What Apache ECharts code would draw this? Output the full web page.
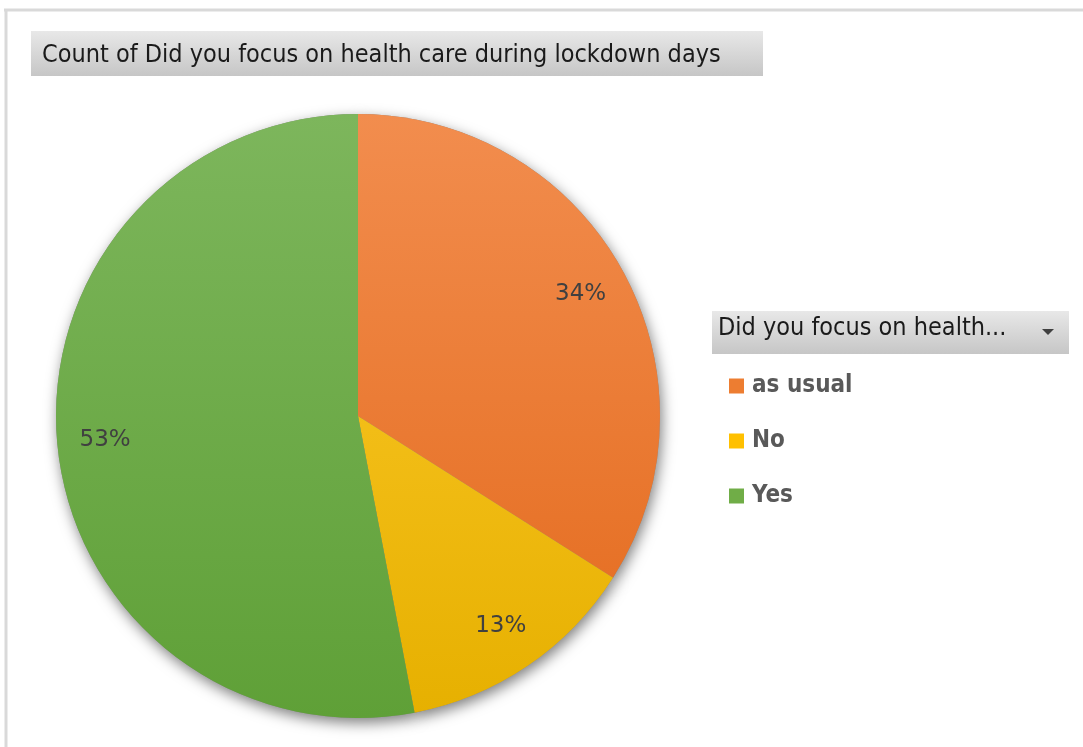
<!DOCTYPE html>
<html>
<head>
<meta charset="utf-8">
<script src="https://cdn.jsdelivr.net/npm/echarts@6/dist/echarts.min.js"></script>
<style>
  html, body { margin: 0; padding: 0; background: #fff; }
  #main { width: 1083px; height: 747px; }
</style>
</head>
<body>
<div id="main"></div>
<script>
// data
const categories = ['as usual', 'No', 'Yes']
const values = [34, 13, 53]
const titleText = 'Count of Did you focus on health care during lockdown days'
const legendTitle = 'Did you focus on health...'

// top / bottom shade of each slice
const topColors = ['#F28D4E', '#FFCB2E', '#7DB65C']
const bottomColors = ['#E3691B', '#E6B000', '#5FA037']
const legendColors = ['#ED7D31', '#FFC000', '#70AD47']

const chart = echarts.init(document.getElementById('main'))

const pieData = categories.map((name, i) => ({
  name: name,
  value: values[i],
  itemStyle: {
    color: new echarts.graphic.LinearGradient(0, 114, 0, 718, [
      { offset: 0, color: topColors[i] },
      { offset: 1, color: bottomColors[i] }
    ], true)
  }
}))

const plainData = categories.map((name, i) => ({ name: name, value: values[i] }))

const pieBase = {
  type: 'pie',
  center: [358, 416],
  startAngle: 90,
  clockwise: true,
  silent: true,
  labelLine: { show: false }
}

const option = {
  animation: false,
  title: {
    text: titleText,
    left: 37,
    top: 38,
    textStyle: {
      fontFamily: 'DejaVu Sans Condensed',
      fontSize: 25,
      fontWeight: 'normal',
      color: '#1a1a1a'
    }
  },
  graphic: [
    // frame
    { type: 'line', shape: { x1: 4, y1: 10, x2: 1083, y2: 10 }, style: { stroke: '#d9d9d9', lineWidth: 3 }, z: -10 },
    { type: 'line', shape: { x1: 6, y1: 10, x2: 6, y2: 747 }, style: { stroke: '#d9d9d9', lineWidth: 3 }, z: -10 },
    // title box
    {
      type: 'rect', shape: { x: 31, y: 31, width: 732, height: 45 }, z: -5,
      style: {
        fill: new echarts.graphic.LinearGradient(0, 0, 0, 1, [
          { offset: 0, color: '#e8e8e8' }, { offset: 1, color: '#c6c6c6' }
        ])
      }
    },
    // legend header
    {
      type: 'rect', shape: { x: 712, y: 311, width: 357, height: 43 }, z: -5,
      style: {
        fill: new echarts.graphic.LinearGradient(0, 0, 0, 1, [
          { offset: 0, color: '#e8e8e8' }, { offset: 1, color: '#c6c6c6' }
        ])
      }
    },
    {
      type: 'text', left: 718, top: 316,
      style: { text: legendTitle, font: '25px "DejaVu Sans Condensed"', fill: '#1a1a1a' }
    },
    {
      type: 'polygon', shape: { points: [[1042, 329], [1054, 329], [1048, 335]] },
      style: { fill: '#404040' }
    }
  ],
  legend: {
    orient: 'vertical',
    left: 724,
    top: 369,
    icon: 'rect',
    itemWidth: 15,
    itemHeight: 15,
    itemGap: 31,
    selectedMode: false,
    textStyle: {
      fontFamily: 'DejaVu Sans Condensed',
      fontSize: 24,
      fontWeight: 'bold',
      color: '#595959',
      padding: [0, 0, 0, 3]
    },
    data: categories.map((name, i) => ({ name: name, itemStyle: { color: legendColors[i] } }))
  },
  series: [
    {
      // shadow layer
      ...pieBase,
      radius: [0, 302],
      z: 1,
      label: { show: false },
      itemStyle: {
        color: '#888',
        shadowBlur: 14,
        shadowColor: 'rgba(0,0,0,0.5)',
        shadowOffsetX: 2,
        shadowOffsetY: 5
      },
      data: plainData
    },
    {
      ...pieBase,
      radius: [0, 302],
      z: 2,
      label: { show: false },
      itemStyle: { borderWidth: 0 },
      data: pieData
    },
    {
      // transparent ring, only for label placement
      ...pieBase,
      radius: [200, 302],
      z: 3,
      itemStyle: { color: 'rgba(0,0,0,0)' },
      label: {
        show: true,
        position: 'inside',
        formatter: '{c}%',
        fontFamily: 'DejaVu Sans',
        fontSize: 23,
        color: '#404040'
      },
      data: plainData
    }
  ]
}

chart.setOption(option)
</script>
</body>
</html>
